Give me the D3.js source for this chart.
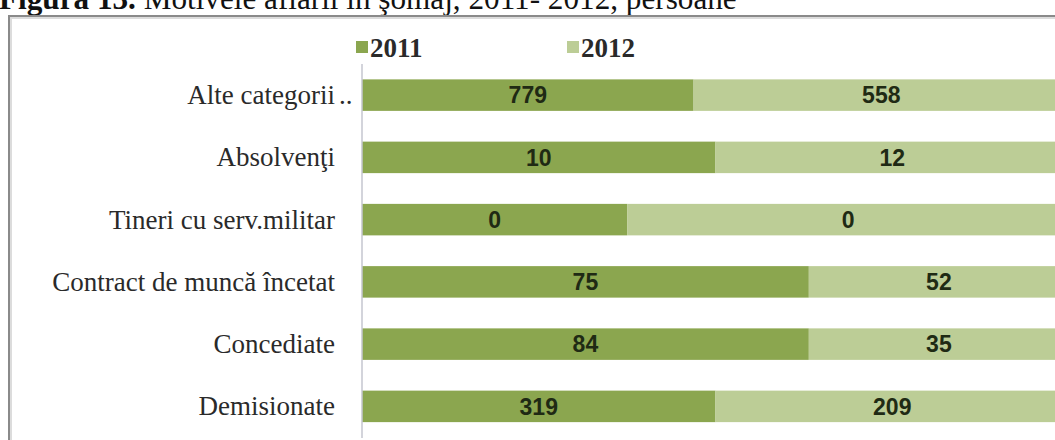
<!DOCTYPE html>
<html>
<head>
<meta charset="utf-8">
<script src="https://cdn.jsdelivr.net/npm/d3@7"></script>
<style>
    body { margin: 0; background: #fff; }
    svg { display: block; }
</style>
</head>
<body>
<div id="chart"></div>
<script>
// categories, top to bottom
var categories = ['Alte categorii ..', 'Absolvenţi', 'Tineri cu serv.militar', 'Contract de muncă încetat', 'Concediate', 'Demisionate'];
// numbers printed on the bars
var values_2011 = [779, 10, 0, 75, 84, 319];
var values_2012 = [558, 12, 0, 52, 35, 209];
// share of each bar (in %) as drawn in the picture
var share_2011 = [46.9, 50, 37.5, 63.2, 63.2, 50];
var share_2012 = [53.1, 50, 62.5, 36.8, 36.8, 50];
var years = ['2011', '2012'];

var colors = { '2011': '#8ba64f', '2012': '#bccd96' };
var width = 1055, height = 440;
var serif = '"Liberation Serif", serif';

var svg = d3.select('#chart').append('svg')
    .attr('width', width)
    .attr('height', height);

// title, cut at the top like in the picture
var title = svg.append('text')
    .attr('x', -1)
    .attr('y', 9)
    .attr('font-family', serif)
    .attr('font-size', 28)
    .attr('fill', '#111');
title.append('tspan').attr('font-weight', 'bold').text('Figura 13. ');
title.append('tspan').text('Motivele aflării în şomaj, 2011- 2012, persoane');
// stretch the font so the title ends where the picture's does
var tw = title.node().getComputedTextLength();
title.attr('font-size', 28 * 738 / tw);

// frame round the chart
svg.append('rect')
    .attr('x', 11).attr('y', 18)
    .attr('width', 1100).attr('height', 500)
    .attr('fill', 'none')
    .attr('stroke', '#dcdcdc')
    .attr('stroke-width', 2);
svg.append('rect')
    .attr('x', 9).attr('y', 16)
    .attr('width', 1100).attr('height', 500)
    .attr('fill', 'none')
    .attr('stroke', '#8a8a8a')
    .attr('stroke-width', 2);

var x = d3.scaleLinear()
    .domain([0, 100])
    .range([362, 1069]);

var y = d3.scaleBand()
    .domain(categories)
    .range([64, 437.5])
    .paddingInner(0.494)
    .paddingOuter(0.247);

var rows = categories.map(function (c, i) {
    return {
        cat: c,
        parts: [
            { year: '2011', x0: 0, x1: share_2011[i], value: values_2011[i] },
            { year: '2012', x0: share_2011[i], x1: share_2011[i] + share_2012[i], value: values_2012[i] }
        ]
    };
});

var row = svg.selectAll('g.row')
    .data(rows)
    .enter()
    .append('g')
    .attr('class', 'row')
    .attr('transform', d => `translate(0,${y(d.cat)})`);

row.selectAll('rect')
    .data(d => d.parts)
    .enter()
    .append('rect')
    .attr('x', d => x(d.x0))
    .attr('y', 0)
    .attr('width', d => x(d.x1) - x(d.x0))
    .attr('height', y.bandwidth())
    .attr('fill', d => colors[d.year]);

row.selectAll('text.val')
    .data(d => d.parts)
    .enter()
    .append('text')
    .attr('class', 'val')
    .attr('x', d => (x(d.x0) + x(d.x1)) / 2)
    .attr('y', y.bandwidth() / 2)
    .attr('dy', '0.36em')
    .attr('text-anchor', 'middle')
    .attr('font-family', '"Liberation Sans", Arial, sans-serif')
    .attr('font-weight', 'bold')
    .attr('font-size', 23)
    .attr('fill', '#1f2a14')
    .text(d => d.value);

// vertical axis line
svg.append('line')
    .attr('x1', x(0)).attr('x2', x(0))
    .attr('y1', 64).attr('y2', 438)
    .attr('stroke', '#c4c6cf')
    .attr('stroke-width', 1.5);

// category labels, the trailing dots hang past the label edge
row.append('text')
    .attr('x', 335)
    .attr('y', y.bandwidth() / 2)
    .attr('dy', '0.33em')
    .attr('text-anchor', 'end')
    .attr('font-family', serif)
    .attr('font-size', 27)
    .attr('fill', '#2a2a2a')
    .text(d => d.cat.replace(' ..', ''));
row.filter(d => d.cat.endsWith('..'))
    .append('text')
    .attr('x', 339)
    .attr('y', y.bandwidth() / 2)
    .attr('dy', '0.33em')
    .attr('font-family', serif)
    .attr('font-size', 27)
    .attr('fill', '#2a2a2a')
    .text('..');

// legend
var legend_x = [356, 567];
var legend = svg.selectAll('g.legend')
    .data(years)
    .enter()
    .append('g')
    .attr('class', 'legend')
    .attr('transform', (d, i) => `translate(${legend_x[i]},48)`);
legend.append('rect')
    .attr('x', 0).attr('y', -7)
    .attr('width', 12).attr('height', 12)
    .attr('fill', d => colors[d]);
legend.append('text')
    .attr('x', 14)
    .attr('y', 0)
    .attr('dy', '0.35em')
    .attr('font-family', serif)
    .attr('font-weight', 'bold')
    .attr('font-size', 27)
    .attr('fill', '#2a2a2a')
    .text(d => d);
</script>
</body>
</html>
